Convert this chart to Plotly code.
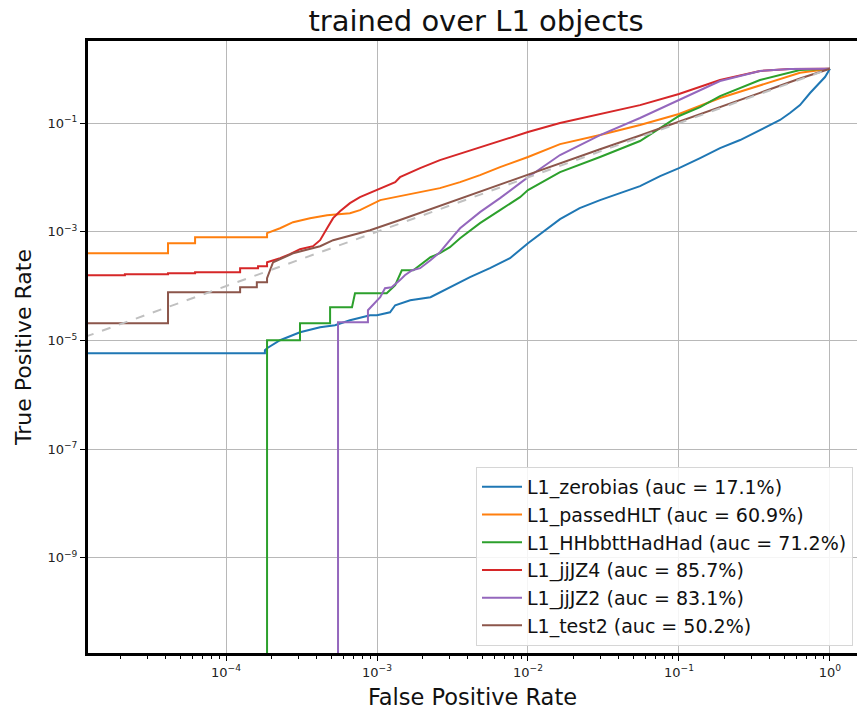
import numpy as np
import plotly.graph_objects as go

# ---------------- data ----------------
labels = [
    "L1_zerobias (auc = 17.1%)",
    "L1_passedHLT (auc = 60.9%)",
    "L1_HHbbttHadHad (auc = 71.2%)",
    "L1_jjJZ4 (auc = 85.7%)",
    "L1_jjJZ2 (auc = 83.1%)",
    "L1_test2 (auc = 50.2%)",
]
colors = ["#1f77b4", "#ff7f0e", "#2ca02c", "#d62728", "#9467bd", "#8c564b"]

fpr_zerobias = [0, 1.81e-4, 1.81e-4, 1.87e-4, 2.28e-4, 3.09e-4, 4.20e-4, 5.27e-4, 6.62e-4,
                9.0e-4, 1.0e-3, 1.22e-3, 1.32e-3, 1.66e-3, 2.26e-3, 3.04e-3, 4.13e-3, 5.6e-3,
                7.6e-3, 1.0e-2, 1.34e-2, 1.63e-2, 2.2e-2, 3.0e-2, 4.07e-2, 5.52e-2, 7.5e-2,
                0.1, 0.138, 0.187, 0.254, 0.344, 0.467, 0.543, 0.633, 0.738, 0.858, 0.927, 1.0]
tpr_zerobias = [5.8e-6, 5.8e-6, 6.6e-6, 7.2e-6, 1.01e-5, 1.42e-5, 1.75e-5, 1.91e-5, 2.36e-5,
                2.91e-5, 2.91e-5, 3.30e-5, 4.45e-5, 5.5e-5, 6.25e-5, 9.55e-5, 1.46e-4, 2.14e-4,
                3.26e-4, 6.17e-4, 1.16e-3, 1.71e-3, 2.72e-3, 3.82e-3, 5.14e-3, 6.92e-3, 1.06e-2,
                1.48e-2, 2.27e-2, 3.47e-2, 4.87e-2, 7.43e-2, 0.114, 0.153, 0.214, 0.357, 0.546, 0.703, 1.0]

fpr_passedHLT = [0, 4.13e-5, 4.13e-5, 6.24e-5, 6.24e-5, 1.87e-4, 1.87e-4, 2.28e-4, 2.78e-4,
                 3.60e-4, 4.67e-4, 6.62e-4, 7.71e-4, 9.0e-4, 1.05e-3, 1.42e-3, 1.93e-3, 2.61e-3,
                 3.55e-3, 4.81e-3, 6.53e-3, 1.0e-2, 1.63e-2, 3.0e-2, 5.52e-2, 0.1, 0.187, 0.344,
                 0.633, 1.0]
tpr_passedHLT = [4.03e-4, 4.03e-4, 6.17e-4, 6.17e-4, 7.96e-4, 7.96e-4, 9.42e-4, 1.16e-3, 1.50e-3,
                 1.78e-3, 2.02e-3, 2.20e-3, 2.50e-3, 3.09e-3, 3.82e-3, 4.53e-3, 5.36e-3, 6.35e-3,
                 8.18e-3, 1.10e-2, 1.55e-2, 2.37e-2, 4.1e-2, 6.01e-2, 9.19e-2, 0.147, 0.289, 0.501,
                 0.844, 1.0]

fpr_HHbbtt = [0, 1.87e-4, 1.87e-4, 3.09e-4, 3.09e-4, 4.89e-4, 4.89e-4, 6.83e-4, 7.15e-4,
              1.16e-3, 1.32e-3, 1.46e-3, 1.74e-3, 1.93e-3, 2.26e-3, 2.61e-3, 3.04e-3, 3.55e-3,
              4.81e-3, 6.53e-3, 8.86e-3, 1.0e-2, 1.63e-2, 3.0e-2, 5.52e-2, 0.1, 0.138, 0.187,
              0.344, 0.633, 1.0]
tpr_HHbbtt = [0, 0, 1.01e-5, 1.01e-5, 2.07e-5, 2.07e-5, 4.09e-5, 4.09e-5, 7.4e-5,
              7.4e-5, 1.04e-4, 1.96e-4, 1.96e-4, 2.43e-4, 3.40e-4, 4.03e-4, 5.2e-4, 7.62e-4,
              1.44e-3, 2.50e-3, 4.34e-3, 5.84e-3, 1.25e-2, 2.37e-2, 4.67e-2, 0.135, 0.197, 0.314,
              0.62, 0.946, 1.0]

fpr_jjJZ4 = [0, 2.14e-5, 2.14e-5, 4.13e-5, 4.13e-5, 6.24e-5, 6.24e-5, 1.24e-4, 1.24e-4,
             1.63e-4, 1.63e-4, 1.87e-4, 1.87e-4, 2.28e-4, 2.65e-4, 3.09e-4, 3.77e-4, 4.20e-4,
             4.67e-4, 5.12e-4, 5.69e-4, 6.62e-4, 7.71e-4, 1.0e-3, 1.32e-3, 1.42e-3, 1.93e-3,
             2.61e-3, 4.81e-3, 1.0e-2, 1.63e-2, 3.0e-2, 5.52e-2, 0.1, 0.187, 0.344, 0.543, 1.0]
tpr_jjJZ4 = [1.59e-4, 1.59e-4, 1.66e-4, 1.66e-4, 1.73e-4, 1.73e-4, 1.80e-4, 1.80e-4, 2.14e-4,
             2.14e-4, 2.32e-4, 2.32e-4, 2.75e-4, 3.26e-4, 3.87e-4, 4.78e-4, 5.43e-4, 7.0e-4,
             1.16e-3, 1.78e-3, 2.39e-3, 3.36e-3, 4.34e-3, 5.84e-3, 8.18e-3, 1.01e-2, 1.48e-2,
             2.08e-2, 3.61e-2, 6.83e-2, 0.1, 0.147, 0.214, 0.342, 0.62, 0.91, 0.985, 1.0]

fpr_jjJZ2 = [0, 5.52e-4, 5.52e-4, 8.71e-4, 8.71e-4, 9.70e-4, 1.05e-3, 1.13e-3, 1.25e-3,
             1.42e-3, 1.53e-3, 1.71e-3, 1.93e-3, 2.26e-3, 2.61e-3, 3.04e-3, 3.55e-3, 4.81e-3,
             6.53e-3, 8.86e-3, 1.0e-2, 1.63e-2, 3.0e-2, 5.52e-2, 0.1, 0.187, 0.344, 0.543, 1.0]
tpr_jjJZ2 = [0, 0, 2.16e-5, 2.16e-5, 3.60e-5, 4.84e-5, 6.25e-5, 9.15e-5, 9.55e-5,
             1.29e-4, 1.59e-4, 1.96e-4, 2.14e-4, 3.0e-4, 4.21e-4, 7.0e-4, 1.16e-3, 2.30e-3,
             4.16e-3, 7.85e-3, 1.01e-2, 2.58e-2, 6.01e-2, 0.124, 0.265, 0.593, 0.91, 0.99, 1.0]

fpr_test2 = [0, 4.13e-5, 4.13e-5, 1.24e-4, 1.24e-4, 1.60e-4, 1.60e-4, 1.87e-4, 1.87e-4,
             2.05e-4, 2.78e-4, 4.20e-4, 5.12e-4, 6.93e-4, 9.0e-4, 1.42e-3, 2.26e-3, 3.04e-3,
             4.13e-3, 5.6e-3, 7.6e-3, 1.0e-2, 1.63e-2, 3.0e-2, 5.52e-2, 0.1, 0.187, 0.344,
             0.633, 1.0]
tpr_test2 = [2.07e-5, 2.07e-5, 7.72e-5, 7.72e-5, 9.55e-5, 9.55e-5, 1.18e-4, 1.18e-4, 1.40e-4,
             2.75e-4, 4.03e-4, 5.43e-4, 7.0e-4, 8.65e-4, 1.07e-3, 1.65e-3, 2.6e-3, 3.5e-3,
             4.8e-3, 6.5e-3, 8.8e-3, 1.15e-2, 1.85e-2, 3.3e-2, 5.9e-2, 0.105, 0.195, 0.36,
             0.66, 1.0]

fpr_random = [0, 1]
tpr_random = [0, 1]

series_fpr = [fpr_zerobias, fpr_passedHLT, fpr_HHbbtt, fpr_jjJZ4, fpr_jjJZ2, fpr_test2]
series_tpr = [tpr_zerobias, tpr_passedHLT, tpr_HHbbtt, tpr_jjJZ4, tpr_jjJZ2, tpr_test2]

x_ticks = [1e-4, 1e-3, 1e-2, 1e-1, 1e0]
x_ticktext = ["10<sup>−4</sup>", "10<sup>−3</sup>", "10<sup>−2</sup>", "10<sup>−1</sup>", "10<sup>0</sup>"]
y_ticks = [1e-9, 1e-7, 1e-5, 1e-3, 1e-1]
y_ticktext = ["10<sup>−9</sup>", "10<sup>−7</sup>", "10<sup>−5</sup>", "10<sup>−3</sup>", "10<sup>−1</sup>"]

# zero rates cannot sit on a log axis: push them far below the visible range
FLOOR = 1e-12
def floored(v):
    return np.maximum(np.asarray(v, dtype=float), FLOOR)

FONT = "DejaVu Sans"
fig = go.Figure()
for fx, ty, name, col in zip(series_fpr, series_tpr, labels, colors):
    fig.add_trace(go.Scatter(x=floored(fx), y=floored(ty), mode="lines", name=name,
                             line=dict(color=col, width=2)))
fig.add_trace(go.Scatter(x=floored(fpr_random), y=floored(tpr_random), mode="lines",
                         showlegend=False, line=dict(color="#c0c0c0", width=2, dash="dash")))

minor_x = [k * 10.0 ** e for e in range(-5, 1) for k in range(2, 10)]

fig.update_layout(
    width=857, height=710,
    margin=dict(l=88, r=0, t=41, b=57),
    paper_bgcolor="white", plot_bgcolor="white",
    font=dict(family=FONT, color="#222222"),
    title=dict(text="trained over L1 objects", x=476 / 857, xref="container", xanchor="center",
               y=1 - 21 / 710, yref="container", yanchor="middle",
               font=dict(family=FONT, size=29, color="#111111")),
    legend=dict(x=0.9948, xanchor="right", y=0.0114, yanchor="bottom",
                bgcolor="rgba(255,255,255,0.85)", bordercolor="#d6d6d6", borderwidth=1,
                itemwidth=40,
                font=dict(family=FONT, size=19, color="#111111")),
    showlegend=True,
)
fig.update_xaxes(
    type="log", range=[-4.914, 0.179],
    tickmode="array", tickvals=x_ticks, ticktext=x_ticktext,
    ticks="outside", ticklen=5, tickwidth=1, tickcolor="black",
    tickfont=dict(family=FONT, size=13, color="#222222"),
    showgrid=True, gridcolor="#b8b8b8", gridwidth=1,
    showline=True, linecolor="black", linewidth=3, mirror=True,
    zeroline=False,
    minor=dict(tickvals=minor_x, ticks="outside", ticklen=3, tickwidth=1, tickcolor="black",
               showgrid=False),
    title=dict(text="False Positive Rate", font=dict(family=FONT, size=22.5, color="#111111"),
               standoff=12),
)
fig.update_yaxes(
    type="log", range=[-10.75, 0.51],
    tickmode="array", tickvals=y_ticks, ticktext=y_ticktext,
    ticks="outside", ticklen=5, tickwidth=1, tickcolor="black",
    tickfont=dict(family=FONT, size=13, color="#222222"),
    showgrid=True, gridcolor="#b8b8b8", gridwidth=1,
    showline=True, linecolor="black", linewidth=3, mirror=False,
    zeroline=False,
    title=dict(text="True Positive Rate", font=dict(family=FONT, size=22, color="#111111"),
               standoff=10),
)

fig.write_html("out.html")
